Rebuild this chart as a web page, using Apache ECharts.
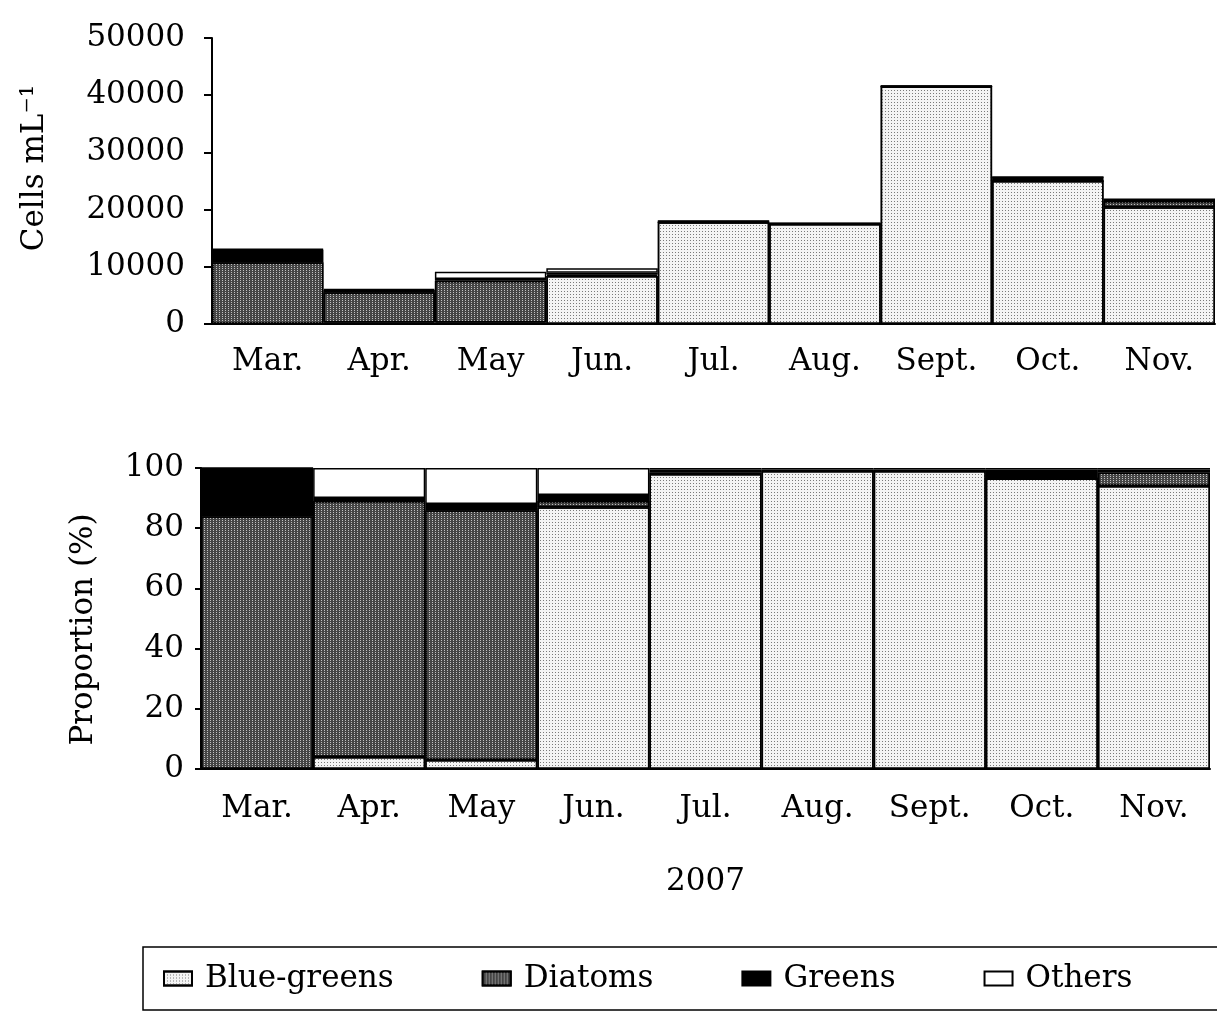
<!DOCTYPE html>
<html>
<head>
<meta charset="utf-8">
<script src="https://cdn.jsdelivr.net/npm/echarts@6/dist/echarts.min.js"></script>
<style>
html,body{margin:0;padding:0;background:#fff;}
#c{width:1217px;height:1017px;}
</style>
</head>
<body>
<div id="c"></div>
<script>
const months = ['Mar.', 'Apr.', 'May', 'Jun.', 'Jul.', 'Aug.', 'Sept.', 'Oct.', 'Nov.'];
const seriesNames = ['Blue-greens', 'Diatoms', 'Greens', 'Others'];

// Cells mL-1 (top panel)
const cellsBlueGreens = [0, 250, 250, 8400, 17800, 17500, 41500, 25000, 20400];
const cellsDiatoms    = [10800, 5300, 7300, 250, 0, 0, 0, 0, 1100];
const cellsGreens     = [2200, 400, 300, 300, 200, 100, 100, 700, 300];
const cellsOthers     = [100, 150, 1300, 800, 0, 0, 0, 0, 0];

// Proportion (%) (bottom panel)
const propBlueGreens = [0, 4, 3, 87, 98, 99, 99, 96.5, 94];
const propDiatoms    = [84, 85, 83, 2, 0.5, 0, 0, 0, 4.5];
const propGreens     = [16, 1, 2, 2, 1, 0.5, 0.5, 3, 1];
const propOthers     = [0, 10, 12, 9, 0.5, 0.5, 0.5, 0.5, 0.5];

const cellsTicks = [0, 10000, 20000, 30000, 40000, 50000];
const propTicks = [0, 20, 40, 60, 80, 100];

const FONT = 'DejaVu Serif';
const FS = 31;
const styles = [
  { color: '#f4f4f4', decal: { symbol: 'rect', symbolSize: 1, color: '#7a7a7a', dashArrayX: [1, 2], dashArrayY: [1, 2], rotation: 0 } },
  { color: '#454545', decal: { symbol: 'rect', symbolSize: 1, color: '#c0c0c0', dashArrayX: [1, 2], dashArrayY: [1, 1], rotation: 0 } },
  { color: '#000000' },
  { color: '#ffffff' }
];

function mkSeries(dataArrs, xi, yi, stack) {
  return dataArrs.map((d, i) => ({
    name: seriesNames[i],
    type: 'bar',
    stack: stack,
    xAxisIndex: xi,
    yAxisIndex: yi,
    barCategoryGap: '0%',
    data: d,
    itemStyle: Object.assign({ borderColor: '#000', borderWidth: 1.5 }, styles[i]),
    emphasis: { disabled: true }
  }));
}

const txt = { color: '#000', fontFamily: FONT, fontSize: FS };
const axisLine = { show: true, lineStyle: { color: '#000', width: 2 } };
const plain = v => String(v);

const option = {
  animation: false,
  backgroundColor: '#fff',
  textStyle: { fontFamily: FONT, color: '#000' },
  grid: [
    { left: 212, top: 38, width: 1003, height: 286 },
    { left: 201, top: 468, width: 1009, height: 301 }
  ],
  xAxis: [
    { type: 'category', gridIndex: 0, data: months, axisLine: axisLine, axisTick: { show: false },
      axisLabel: Object.assign({ margin: 22 }, txt) },
    { type: 'category', gridIndex: 1, data: months, axisLine: axisLine, axisTick: { show: false },
      axisLabel: Object.assign({ margin: 24 }, txt),
      name: '2007', nameLocation: 'middle', nameGap: 97, nameTextStyle: txt }
  ],
  yAxis: [
    { type: 'value', gridIndex: 0, min: cellsTicks[0], max: cellsTicks[cellsTicks.length - 1], interval: 10000,
      axisLine: axisLine, axisTick: { show: true, length: 8, lineStyle: { color: '#000', width: 2 } },
      splitLine: { show: false }, axisLabel: Object.assign({ margin: 27, formatter: plain }, txt),
      name: 'Cells mL\u207B\u00B9', nameLocation: 'middle', nameGap: 162,
      nameTextStyle: Object.assign({ padding: [0, 0, 0, 26] }, txt) },
    { type: 'value', gridIndex: 1, min: propTicks[0], max: propTicks[propTicks.length - 1], interval: 20,
      axisLine: axisLine, axisTick: { show: true, length: 6, lineStyle: { color: '#000', width: 2 } },
      splitLine: { show: false }, axisLabel: Object.assign({ margin: 17, formatter: plain }, txt),
      name: 'Proportion (%)', nameLocation: 'middle', nameGap: 102,
      nameTextStyle: Object.assign({ padding: [0, 22, 0, 0] }, txt) }
  ],
  legend: {
    data: seriesNames,
    left: 143, top: 947,
    width: 1200,
    padding: [16, 110, 16, 20],
    itemGap: 88,
    icon: 'rect',
    itemWidth: 28, itemHeight: 14,
    borderColor: '#000', borderWidth: 1.5, borderRadius: 0,
    textStyle: Object.assign({ padding: [0, 0, 0, 8] }, txt),
    selectedMode: false
  },
  series: [].concat(
    mkSeries([cellsBlueGreens, cellsDiatoms, cellsGreens, cellsOthers], 0, 0, 'top'),
    mkSeries([propBlueGreens, propDiatoms, propGreens, propOthers], 1, 1, 'bottom')
  )
};

const chart = echarts.init(document.getElementById('c'), null, { renderer: 'canvas' });
chart.setOption(option);
</script>
</body>
</html>
